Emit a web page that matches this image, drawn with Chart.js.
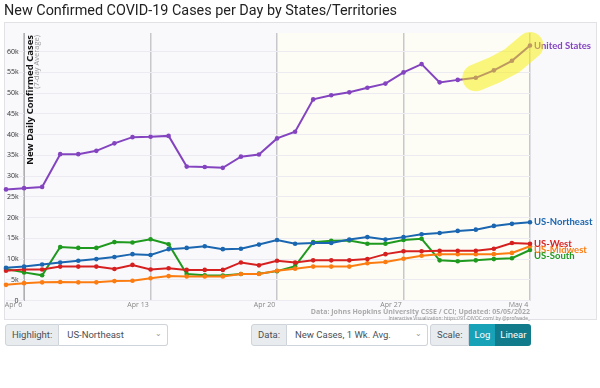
<!DOCTYPE html>
<html>
<head>
<meta charset="utf-8">
<script src="https://cdn.jsdelivr.net/npm/chart.js@4.4.1/dist/chart.umd.min.js"></script>
<style>
    body { margin: 0; background: #fff; font-family: "Open Sans", sans-serif; }
    #wrap { position: relative; width: 600px; height: 388px; overflow: hidden; }
    #title { position: absolute; left: 4px; top: 2px; font: 14.4px Roboto, sans-serif; color: #222; white-space: nowrap; }
    #chart { position: absolute; left: 0; top: 0; }
    .grp { position: absolute; top: 324px; height: 22px; display: flex; font: 9.5px Roboto, sans-serif; }
    .lab { background: #e9ecef; border: 1px solid #ced4da; border-radius: 3px 0 0 3px; color: #495057; padding: 0 6px; line-height: 20px; }
    .sel { flex: 1; background: #fff; border: 1px solid #ced4da; border-left: none; border-radius: 0 3px 3px 0; color: #495057; padding: 0 8px; line-height: 20px; position: relative; }
    .sel i { position: absolute; right: 5px; top: -1px; font-style: normal; color: #999; font-size: 8px; }
    .btn { color: #fff; line-height: 22px; padding: 0 5px; }
</style>
</head>
<body>
<div id="wrap">
    <canvas id="chart" width="600" height="322"></canvas>
    <div id="title">New Confirmed COVID-19 Cases per Day by States/Territories</div>

    <div class="grp" style="left:5px;width:163px"><span class="lab">Highlight:</span><span class="sel">US-Northeast<i>&#8964;</i></span></div>
    <div class="grp" style="left:251px;width:177px"><span class="lab">Data:</span><span class="sel">New Cases, 1 Wk. Avg.<i>&#8964;</i></span></div>
    <div class="grp" style="left:430px">
        <span class="lab">Scale:</span>
        <span class="btn" style="background:#17a2b8">Log</span>
        <span class="btn" style="background:#117a8b;border-radius:0 3px 3px 0">Linear</span>
    </div>
</div>

<script>
// ============================================
// Daily new cases, 7-day average (Apr 5 - May 4)
// ============================================

const dates = [
    'Apr 5', 'Apr 6', 'Apr 7', 'Apr 8', 'Apr 9', 'Apr 10', 'Apr 11', 'Apr 12', 'Apr 13', 'Apr 14',
    'Apr 15', 'Apr 16', 'Apr 17', 'Apr 18', 'Apr 19', 'Apr 20', 'Apr 21', 'Apr 22', 'Apr 23', 'Apr 24',
    'Apr 25', 'Apr 26', 'Apr 27', 'Apr 28', 'Apr 29', 'Apr 30', 'May 1', 'May 2', 'May 3', 'May 4'
];
const weekTicks = ['Apr 6', 'Apr 13', 'Apr 20', 'Apr 27', 'May 4'];
const yTicks = [0, 5000, 10000, 15000, 20000, 25000, 30000, 35000, 40000, 45000, 50000, 55000, 60000];

const unitedStates = [
    26800, 27100, 27400, 35300, 35300, 36100, 37900, 39400, 39500, 39700,
    32300, 32200, 32000, 34700, 35200, 39100, 40700, 48500, 49500, 50200,
    51300, 52300, 55000, 57000, 52600, 53200, 53700, 55500, 57800, 61500
];
const usNortheast = [
    7900, 8200, 8700, 9200, 9600, 10000, 10500, 11200, 11000, 12400,
    12700, 13100, 12400, 12500, 13500, 14600, 13700, 13900, 13900, 14700,
    15300, 14700, 15300, 16000, 16300, 16800, 17100, 18000, 18500, 18900
];
const usWest = [
    7200, 7500, 7500, 8200, 8200, 8200, 7600, 8600, 7500, 7800,
    7400, 7400, 7400, 9200, 8500, 9600, 9200, 9700, 9700, 9700,
    10000, 11200, 11900, 11900, 12000, 12000, 12000, 12500, 13900, 13700
];
const usMidwest = [
    3800, 4200, 4400, 4500, 4400, 4400, 4700, 4800, 5400, 5900,
    5800, 5800, 5800, 6400, 6400, 7200, 7700, 8200, 8200, 8200,
    9000, 9300, 10100, 10800, 11200, 11200, 11200, 11200, 11500, 13100
];
const usSouth = [
    7600, 6800, 6100, 12900, 12700, 12700, 14100, 14000, 14800, 13600,
    6400, 6100, 6050, 6400, 6500, 7100, 8300, 14100, 14400, 14500,
    13700, 13700, 14600, 14900, 9700, 9500, 9700, 10000, 10200, 12200
];

const seriesNames = ['United States', 'US-Northeast', 'US-West', 'US-Midwest', 'US-South'];
const seriesValues = [unitedStates, usNortheast, usWest, usMidwest, usSouth];
const seriesColors = ['#8444c0', '#1a66b0', '#d62020', '#fb7d12', '#1f9a1f'];

// highlighted stretch of the US line
const highlightFrom = 'May 1';

// Card background + shaded recent weeks
const backgroundPlugin = {
    id: 'background',
    beforeDraw(chart) {
        const { ctx, chartArea, scales } = chart;
        ctx.save();
        ctx.fillStyle = '#f9f9fc';
        ctx.fillRect(4, 22, 593, 298);
        ctx.strokeStyle = '#e2e2e6';
        ctx.lineWidth = 1;
        ctx.strokeRect(4.5, 22.5, 592, 297);
        const x20 = scales.x.getPixelForValue(dates.indexOf('Apr 20'));
        ctx.fillStyle = '#fdfdf6';
        ctx.fillRect(x20, chartArea.top, chartArea.right - x20, chartArea.bottom - chartArea.top);
        ctx.restore();
    }
};

// Y axis title, end labels, source text, highlight
const annotationPlugin = {
    id: 'annotations',
    afterDatasetsDraw(chart) {
        const { ctx, chartArea, scales } = chart;
        ctx.save();

        // axis title
        const axisX = scales.x.getPixelForValue(1);
        ctx.translate(axisX + 6, chartArea.top + 2);
        ctx.rotate(-Math.PI / 2);
        ctx.textAlign = 'right';
        ctx.textBaseline = 'middle';
        ctx.fillStyle = '#111';
        ctx.font = 'bold 9.5px "Open Sans", sans-serif';
        ctx.fillText('New Daily Confirmed Cases', 0, 0);
        ctx.fillStyle = '#999';
        ctx.font = '7.5px "Open Sans", sans-serif';
        ctx.fillText('(7-day Average)', 0, 7);
        ctx.setTransform(1, 0, 0, 1, 0, 0);

        // labels at the end of each line, pushed apart when they collide
        const ends = chart.data.datasets.map((ds, i) => {
            const meta = chart.getDatasetMeta(i);
            const pt = meta.data[meta.data.length - 1];
            return { text: ds.label, color: ds.borderColor, x: pt.x, y: pt.y };
        }).sort((a, b) => a.y - b.y);
        for (let i = 1; i < ends.length; i++) {
            if (ends[i].y - ends[i - 1].y < 6.3) ends[i].y = ends[i - 1].y + 6.3;
        }
        ctx.font = 'bold 9.5px Lato, sans-serif';
        ctx.textAlign = 'left';
        ctx.textBaseline = 'middle';
        ends.forEach(e => {
            ctx.fillStyle = e.color;
            ctx.fillText(e.text, e.x + 4, e.y);
        });

        // source
        ctx.textAlign = 'right';
        ctx.textBaseline = 'middle';
        ctx.fillStyle = '#aaa';
        ctx.font = 'bold 7px "Open Sans", sans-serif';
        ctx.fillText('Data: Johns Hopkins University CSSE / CCI; Updated: 05/05/2022', chartArea.right, 312);
        ctx.font = '4.8px "Open Sans", sans-serif';
        ctx.fillStyle = '#888';
        ctx.fillText('Interactive Visualization: https://91-DIVOC.com/ by @profwade_', chartArea.right, 318.5);
        ctx.restore();
    },
    afterDraw(chart) {
        const { ctx } = chart;
        const pts = chart.getDatasetMeta(0).data.slice(dates.indexOf(highlightFrom));
        ctx.save();
        ctx.strokeStyle = 'rgba(248, 240, 0, 0.5)';
        ctx.lineWidth = 27;
        ctx.lineCap = 'round';
        ctx.lineJoin = 'round';
        ctx.beginPath();
        pts.forEach((p, i) => i ? ctx.lineTo(p.x, p.y) : ctx.moveTo(p.x, p.y));
        ctx.stroke();
        ctx.restore();
    }
};

new Chart(document.getElementById('chart'), {
    type: 'line',
    data: {
        labels: dates,
        datasets: seriesNames.map((name, i) => ({
            label: name,
            data: seriesValues[i],
            borderColor: seriesColors[i],
            backgroundColor: seriesColors[i],
            borderWidth: 2,
            pointRadius: 2.3,
            pointBorderWidth: 0,
            tension: 0
        }))
    },
    options: {
        responsive: false,
        animation: false,
        layout: { padding: { left: 6, right: 70, top: 33, bottom: 13 } },
        plugins: {
            legend: { display: false },
            tooltip: { enabled: false }
        },
        scales: {
            x: {
                grid: {
                    color: ctx => weekTicks.includes(dates[ctx.index]) ? '#c8c8cc' : 'transparent',
                    lineWidth: 1.5,
                    drawTicks: false
                },
                border: { display: false },
                ticks: {
                    autoSkip: false,
                    maxRotation: 0,
                    align: 'end',
                    padding: 0,
                    color: '#888',
                    font: { size: 7, family: '"Open Sans", sans-serif' },
                    callback: (v, i) => weekTicks.includes(dates[i]) ? dates[i] + ' ' : ''
                }
            },
            y: {
                position: { x: 1 },
                min: 0,
                max: 64500,
                afterBuildTicks: axis => { axis.ticks = yTicks.map(v => ({ value: v })); },
                grid: { color: '#ebebf1', lineWidth: 1, tickLength: 4 },
                border: { color: '#b0b0b4' },
                ticks: {
                    color: '#333',
                    font: { size: 7, family: '"Open Sans", sans-serif' },
                    callback: v => (v === 0 ? '0' : (v / 1000) + 'k') + '   '
                }
            }
        }
    },
    plugins: [backgroundPlugin, annotationPlugin]
});
</script>
</body>
</html>
